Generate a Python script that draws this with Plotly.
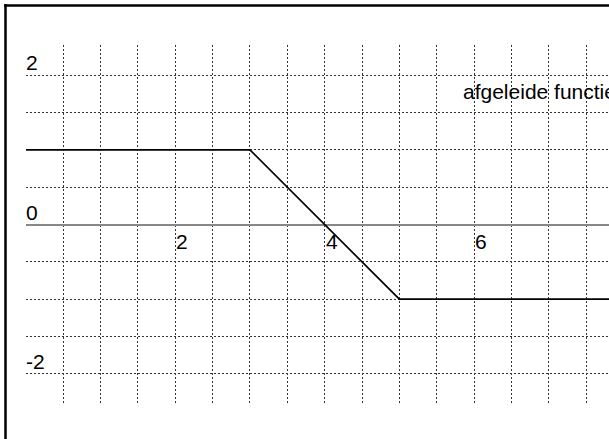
import plotly.graph_objects as go

# ---- data ----
x_vals = [0, 3, 5, 7.9]
y_vals = [1, 1, -1, -1]
x_tick_vals = [2, 4, 6]
x_tick_labels = ["2", "4", "6"]
y_tick_vals = [2, 0, -2]
y_tick_labels = ["2", "0", "-2"]
label_text = "afgeleide functie"

W, H = 609, 439
L, T, B = 26, 45, 36
PX = 74.7  # pixels per unit
plot_w = W - L
plot_h = H - T - B
x0 = 0.002
x_range = [x0, x0 + plot_w / PX]
y_top = (224.5 - T) / PX
y_range = [y_top - plot_h / PX, y_top]

FONT = "Liberation Sans, Arial, sans-serif"
FS = 21

fig = go.Figure()
fig.add_trace(go.Scatter(x=x_vals, y=y_vals, mode="lines",
                         line=dict(color="black", width=1.7),
                         hoverinfo="skip", showlegend=False))

annotations = []
for v, t in zip(x_tick_vals, x_tick_labels):
    annotations.append(dict(x=v, y=0, xref="x", yref="y", text=t, showarrow=False,
                            xanchor="left", yanchor="top", xshift=-1, yshift=-3,
                            font=dict(family=FONT, size=FS, color="black")))
for v, t in zip(y_tick_vals, y_tick_labels):
    annotations.append(dict(x=0, y=v, xref="paper", yref="y", text=t, showarrow=False,
                            xanchor="left", yanchor="bottom", xshift=-2, yshift=-1,
                            font=dict(family=FONT, size=FS, color="black")))
annotations.append(dict(x=(463 - L) / PX, y=(224.5 - 91) / PX, xref="x", yref="y",
                        text=label_text, showarrow=False, xanchor="left", yanchor="middle",
                        xshift=-2, font=dict(family=FONT, size=FS, color="black")))

def px_x(p):
    return (p - L) / plot_w

def px_y(p):
    return (H - B - p) / plot_h

shapes = [
    dict(type="line", xref="paper", yref="paper", x0=px_x(4), x1=px_x(W + 5),
         y0=px_y(5.5), y1=px_y(5.5), line=dict(color="black", width=2.5)),
    dict(type="line", xref="paper", yref="paper", x0=px_x(5.5), x1=px_x(5.5),
         y0=px_y(4), y1=px_y(H + 5), line=dict(color="black", width=2.5)),
]

grid_style = dict(showgrid=True, gridcolor="#333", griddash="2px,2px", gridwidth=1,
                  showticklabels=False, ticks="", showline=False, dtick=0.5, tick0=0)

fig.update_layout(
    width=W, height=H,
    margin=dict(l=L, r=0, t=T, b=B, pad=0),
    paper_bgcolor="white", plot_bgcolor="white",
    xaxis=dict(range=x_range, zeroline=False, **grid_style),
    yaxis=dict(range=y_range, zeroline=True, zerolinecolor="#888", zerolinewidth=1.5,
               **grid_style),
    annotations=annotations, shapes=shapes,
    showlegend=False,
)
fig.write_html("out.html", config={"displayModeBar": False},
               post_script="document.body.style.margin='0';document.body.style.overflow='hidden';")
